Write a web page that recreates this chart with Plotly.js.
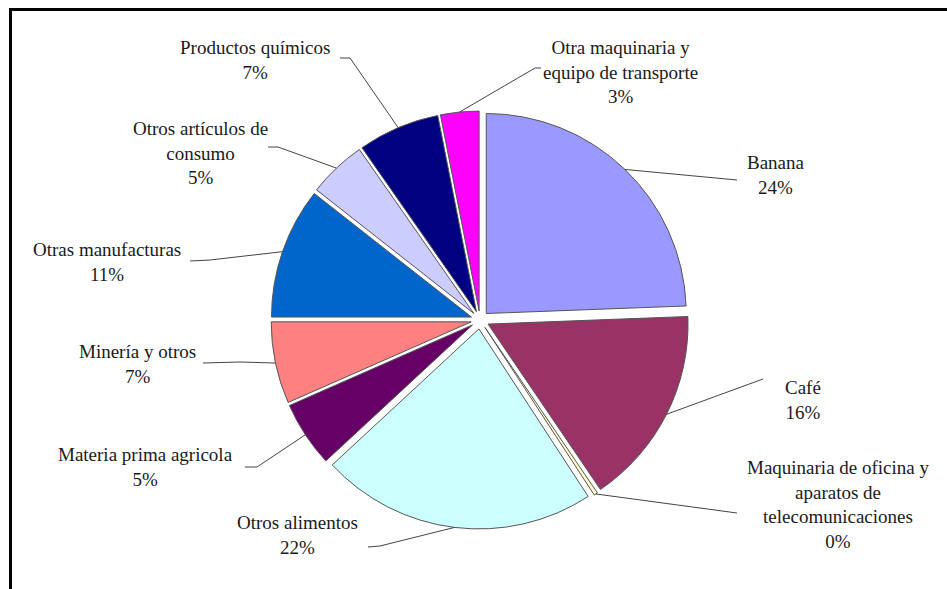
<!DOCTYPE html>
<html><head><meta charset="utf-8">
<script src="https://cdn.plot.ly/plotly-3.0.1.min.js"></script>
<style>
html,body{margin:0;padding:0;background:#fff}
#chart{width:947px;height:589px}
</style>
</head><body><div id="chart"></div>
<script>
// ---- data ----
const categories = ["Banana","Café","Maquinaria de oficina y aparatos de telecomunicaciones","Otros alimentos","Materia prima agrícola","Minería y otros","Otras manufacturas","Otros artículos de consumo","Productos químicos","Otra maquinaria y equipo de transporte"];
const shares = [24.4, 16.1, 0.3, 22.3, 5.3, 6.6, 10.6, 4.7, 6.6, 3.1];
const labelLines = ["Banana","Café","Maquinaria de oficina y<br>aparatos de<br>telecomunicaciones","Otros alimentos","Materia prima agricola","Minería y otros","Otras manufacturas","Otros artículos de<br>consumo","Productos químicos","Otra maquinaria y<br>equipo de transporte"];
const colors = ["#9999FF","#993366","#FFFFCC","#CCFFFF","#660066","#FF8080","#0066CC","#CCCCFF","#000080","#FF00FF"];

// ---- layout geometry (pixels) ----
const W = 947, H = 589;
const CX = 480, CY = 320, R = 200, PULL = 0.045;
const labelPos = [[776,175],[803,400],[838,504],[297,535],[145,467],[137,364],[107,262],[200,153],[255,60],[620,72]];
const leaderPts = [
  [[737,180]],
  [[763,379]],
  [[737,513]],
  [[380,546],[368,547]],
  [[257,467],[245,467]],
  [[240,362],[203,363]],
  [[210,260],[190,261]],
  [[278,147],[268,147]],
  [[350,58],[340,58]],
  [[535,68],[541,68]]
];

const total = shares.reduce((a,b)=>a+b,0);
const outer = R*(1+PULL);
const px = x => x/W, py = y => 1 - y/H;

const shapes = [], annotations = [];
let cum = 0;
shares.forEach((v,i)=>{
  const mid = (cum + v/2)/total*2*Math.PI; cum += v;
  const ex = CX + outer*Math.sin(mid), ey = CY - outer*Math.cos(mid);
  let d = `M${px(ex)},${py(ey)}`;
  leaderPts[i].forEach(p => { d += ` L${px(p[0])},${py(p[1])}`; });
  shapes.push({type:'path', xref:'paper', yref:'paper', path:d, line:{color:'#444', width:1}});
  annotations.push({
    xref:'paper', yref:'paper', x:px(labelPos[i][0]), y:py(labelPos[i][1]),
    xanchor:'center', yanchor:'middle', align:'center', showarrow:false,
    text: labelLines[i] + '<br>' + Math.round(v/total*100) + '%',
    font: {family:"Liberation Serif", size:19, color:"#1a1a1a"}
  });
});
// frame (top and left edges)
shapes.push({type:'line', xref:'paper', yref:'paper', x0:px(9), x1:px(947), y0:py(9.5), y1:py(9.5), line:{color:'#000', width:3}});
shapes.push({type:'line', xref:'paper', yref:'paper', x0:px(10.5), x1:px(10.5), y0:py(8), y1:py(589), line:{color:'#000', width:3}});

const trace = {
  type:'pie', values:shares, labels:categories, sort:false, direction:'clockwise', rotation:0,
  marker:{colors:colors, line:{color:'#555', width:1}},
  pull: shares.map(()=>PULL), textinfo:'none', hoverinfo:'label+percent', showlegend:false,
  domain:{x:[px(CX-outer), px(CX+outer)], y:[py(CY+outer), py(CY-outer)]}
};

Plotly.newPlot('chart', [trace], {
  width:W, height:H, margin:{l:0,r:0,t:0,b:0}, paper_bgcolor:'#fff', plot_bgcolor:'#fff',
  font:{family:"Liberation Serif", size:19, color:"#1a1a1a"},
  showlegend:false, shapes:shapes, annotations:annotations
}, {displayModeBar:false});
</script></body></html>
